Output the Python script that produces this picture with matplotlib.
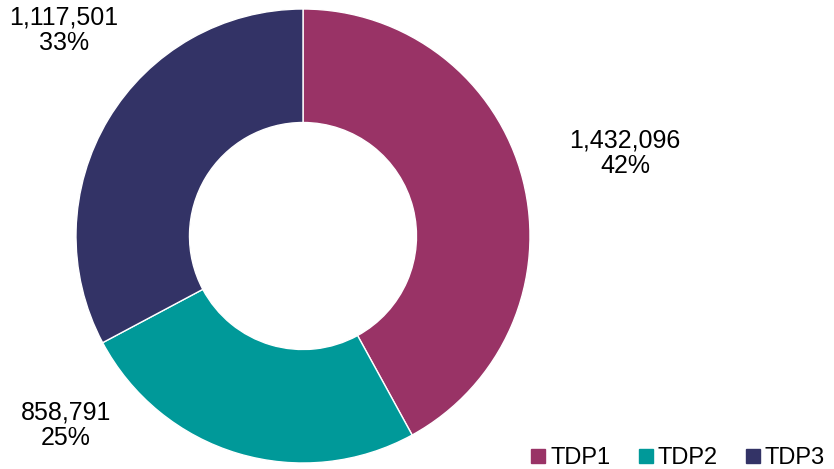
import matplotlib.pyplot as plt
from matplotlib.lines import Line2D

plt.rcParams['font.family'] = ['Liberation Sans', 'DejaVu Sans']

names = ['TDP1', 'TDP2', 'TDP3']
values = [1432096, 858791, 1117501]
colors = ['#993366', '#009999', '#333366']
# label anchor points in pixels (x from left, y from top)
label_pos = [(625, 153), (66, 425), (64, 30)]

fig = plt.figure(figsize=(8.34, 4.69), dpi=100)
ax = fig.add_axes([0, 0, 1, 1])
W, H = 834, 469
cx, cy, R = 303, 236, 227

wedges, _ = ax.pie(values, colors=colors, startangle=90, counterclock=False,
                   radius=R, center=(cx, H - cy),
                   wedgeprops=dict(width=R * 0.5, edgecolor='white', linewidth=1))
ax.set_xlim(0, W)
ax.set_ylim(0, H)
ax.set_aspect('equal')
ax.axis('off')

total = sum(values)
for v, (px, py) in zip(values, label_pos):
    ax.text(px, H - py, f'{v:,}\n{v / total:.0%}', ha='center', va='center',
            fontsize=18, color='#000000', linespacing=1.08)

handles = [Line2D([], [], marker='s', linestyle='', markersize=10,
                  markerfacecolor=c, markeredgecolor=c) for c in colors]
leg = fig.legend(handles, names, loc='lower right', bbox_to_anchor=(1.012, -0.04),
                 ncol=3, frameon=False, fontsize=17, handletextpad=0.0,
                 columnspacing=1.0, handlelength=1.0, borderpad=0.3)

fig.savefig('out.png', dpi=100)
